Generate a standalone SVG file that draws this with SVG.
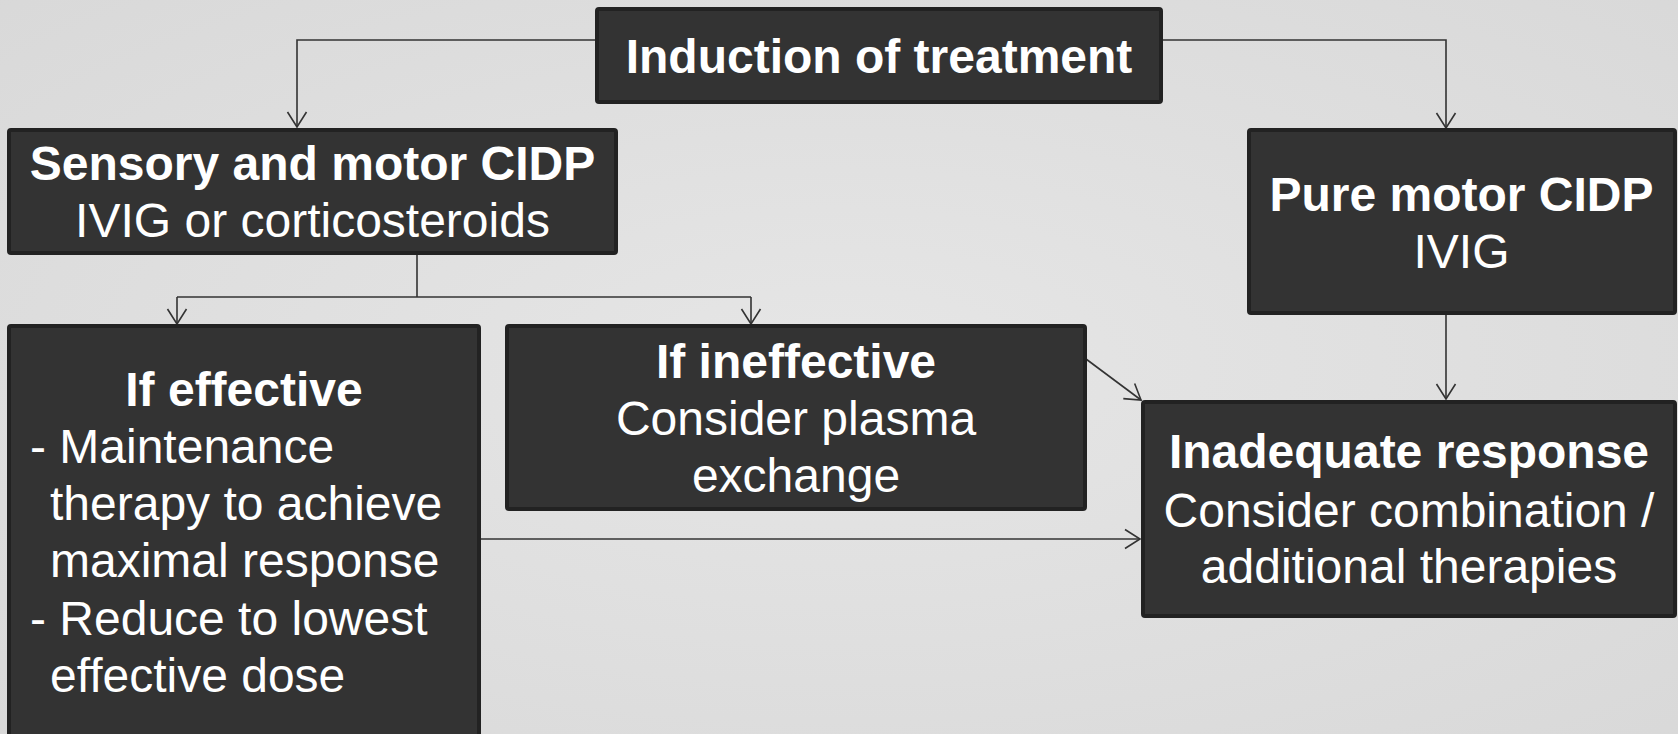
<svg xmlns="http://www.w3.org/2000/svg" width="1678" height="734" viewBox="0 0 1678 734">
<defs>
<radialGradient id="bg" cx="50%" cy="50%" r="75%">
<stop offset="0" stop-color="#e6e6e6"/>
<stop offset="1" stop-color="#d8d8d8"/>
</radialGradient>
<marker id="arr" markerUnits="userSpaceOnUse" viewBox="-17 -11 19 22" refX="0" refY="0" markerWidth="19" markerHeight="22" orient="auto">
<path d="M-15,-9.5 L0,0 L-15,9.5" fill="none" stroke="#333" stroke-width="1.6"/>
</marker>
<style>
.box{fill:#333333;stroke:#222222;stroke-width:4}
.t{font-family:"Liberation Sans",Arial,sans-serif;font-size:48px;fill:#ffffff}
.b{font-weight:bold}
.c{text-anchor:middle}
.conn{fill:none;stroke:#333333;stroke-width:1.6}
</style>
</defs>
<rect width="1678" height="734" fill="url(#bg)"/>
<g id="connectors">
<path class="conn" d="M597,40 H297 V127" marker-end="url(#arr)"/>
<path class="conn" d="M1161,40 H1446 V128" marker-end="url(#arr)"/>
<path class="conn" d="M417,253 V297"/>
<path class="conn" d="M177,297 H751"/>
<path class="conn" d="M177,297 V324" marker-end="url(#arr)"/>
<path class="conn" d="M751,297 V324" marker-end="url(#arr)"/>
<path class="conn" d="M1446,313 V399" marker-end="url(#arr)"/>
<path class="conn" d="M1086,359 L1141,400" marker-end="url(#arr)"/>
<path class="conn" d="M479,539 H1140" marker-end="url(#arr)"/>
</g>
<g id="induction">
<rect class="box" x="597" y="9" width="564" height="93" rx="2"/>
<text class="t b c" x="879" y="73">Induction of treatment</text>
</g>
<g id="sensory">
<rect class="box" x="9" y="130" width="607" height="123" rx="2"/>
<text class="t b c" x="312.5" y="180">Sensory and motor CIDP</text>
<text class="t c" x="312.5" y="237">IVIG or corticosteroids</text>
</g>
<g id="pure">
<rect class="box" x="1249" y="130" width="426" height="183" rx="2"/>
<text class="t b c" x="1461.5" y="211">Pure motor CIDP</text>
<text class="t c" x="1461.5" y="268">IVIG</text>
</g>
<g id="effective">
<rect class="box" x="9" y="326" width="470" height="420" rx="2"/>
<text class="t b c" x="244" y="406">If effective</text>
<text class="t" x="30" y="463">- Maintenance</text>
<text class="t" x="50" y="520">therapy to achieve</text>
<text class="t" x="50" y="577">maximal response</text>
<text class="t" x="30" y="635">- Reduce to lowest</text>
<text class="t" x="50" y="692">effective dose</text>
</g>
<g id="ineffective">
<rect class="box" x="507" y="326" width="578" height="183" rx="2"/>
<text class="t b c" x="796" y="378">If ineffective</text>
<text class="t c" x="796" y="435">Consider plasma</text>
<text class="t c" x="796" y="492">exchange</text>
</g>
<g id="inadequate">
<rect class="box" x="1143" y="402" width="532" height="214" rx="2"/>
<text class="t b c" x="1409" y="468">Inadequate response</text>
<text class="t c" x="1409" y="527">Consider combination /</text>
<text class="t c" x="1409" y="583">additional therapies</text>
</g>
</svg>
